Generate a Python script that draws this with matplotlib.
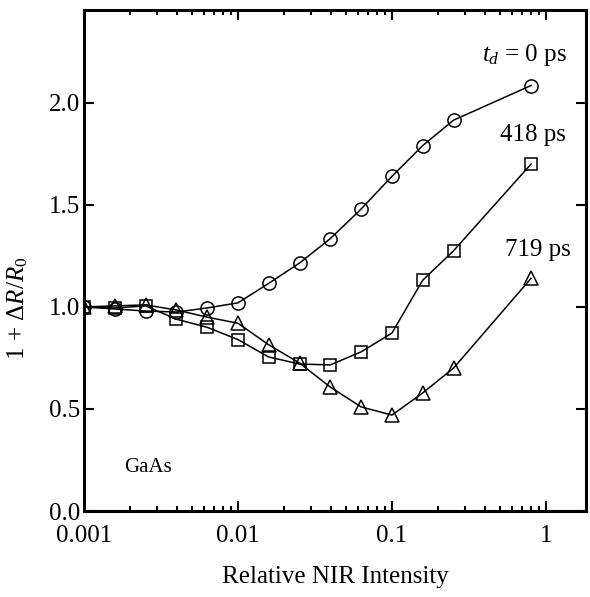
import numpy as np
import matplotlib
matplotlib.use("Agg")
import matplotlib.pyplot as plt
from matplotlib.ticker import LogLocator, FixedLocator, FormatStrFormatter, FuncFormatter

# ==========================
# DATOS
# ==========================
intensidad = [0.001, 0.00158, 0.00251, 0.00398, 0.00631, 0.01, 0.0158,
              0.0251, 0.0398, 0.0631, 0.1, 0.158, 0.251, 0.8]

r_0ps = [1.00, 0.99, 0.98, 0.975, 0.995, 1.02, 1.115,
         1.215, 1.335, 1.48, 1.64, 1.79, 1.915, 2.085]
r_418ps = [1.00, 0.995, 1.005, 0.94, 0.90, 0.84, 0.755,
           0.72, 0.716, 0.78, 0.872, 1.13, 1.275, 1.70]
r_719ps = [1.00, 1.005, 1.01, 0.985, 0.95, 0.92, 0.815,
           0.725, 0.607, 0.51, 0.47, 0.578, 0.70, 1.14]

etiquetas = [r"$t_d$ = 0 ps", "418 ps", "719 ps"]
xticks = [0.001, 0.01, 0.1, 1]
yticks = [0.0, 0.5, 1.0, 1.5, 2.0]

# ==========================
# ESTILO
# ==========================
plt.rcParams["font.family"] = ["Liberation Serif", "DejaVu Serif"]
plt.rcParams["mathtext.fontset"] = "custom"
plt.rcParams["mathtext.rm"] = "Liberation Serif"
plt.rcParams["mathtext.it"] = "Liberation Serif:italic"
plt.rcParams["font.size"] = 18

fig = plt.figure(figsize=(5.9, 5.97), dpi=100)
W, H = 590, 597
x0, x1, y0, y1 = 84, 586, 10, 511
ax = fig.add_axes([x0 / W, 1 - y1 / H, (x1 - x0) / W, (y1 - y0) / H])

estilo = dict(color="black", lw=1.1, mfc="none", mec="black", mew=1.1)
ax.plot(intensidad, r_0ps, marker="o", ms=9.5, **estilo)
ax.plot(intensidad, r_418ps, marker="s", ms=9, **estilo)
ax.plot(intensidad, r_719ps, marker="^", ms=10, **estilo)

ax.set_xscale("log")
ax.set_xlim(0.001, 1.82)
ax.set_ylim(0, 2.455)

ax.xaxis.set_major_locator(FixedLocator(xticks))
ax.xaxis.set_major_formatter(FuncFormatter(lambda v, p: f"{v:g}"))
ax.xaxis.set_minor_locator(LogLocator(base=10, subs=np.arange(2, 10)))
ax.yaxis.set_major_locator(FixedLocator(yticks))
ax.yaxis.set_major_formatter(FormatStrFormatter("%.1f"))

ax.tick_params(which="both", direction="in", top=True, right=True, width=1.5)
ax.tick_params(which="major", length=7)
ax.tick_params(which="minor", length=3.5)
ax.tick_params(axis="x", which="major", pad=10)
ax.tick_params(axis="y", which="major", pad=3)

for s in ax.spines.values():
    s.set_linewidth(2.2)

ax.set_xlabel("Relative NIR Intensity", labelpad=14)
ax.set_ylabel(r"$1\,+\,\Delta R/R_0$")
ax.yaxis.set_label_coords(-0.108, 0.405)

# anotaciones
ax.text(0.793, 0.910, etiquetas[0], transform=ax.transAxes, va="center")
ax.text(0.829, 0.750, etiquetas[1], transform=ax.transAxes, va="center")
ax.text(0.839, 0.521, etiquetas[2], transform=ax.transAxes, va="center")
ax.text(0.080, 0.086, "GaAs", transform=ax.transAxes, va="center", fontsize=15)

fig.savefig("out.png", dpi=100)
